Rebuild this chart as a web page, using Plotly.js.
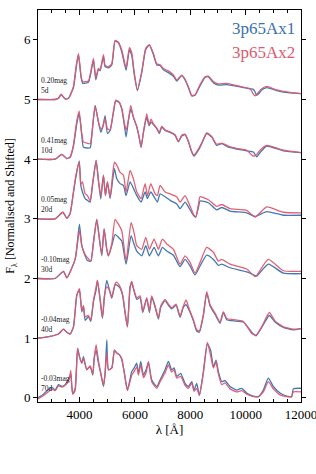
<!DOCTYPE html>
<html>
<head>
<meta charset="utf-8">
<script src="https://cdn.plot.ly/plotly-3.0.1.min.js"></script>
<style>html,body{margin:0;padding:0;background:#fff;}#chart{width:316px;height:474px;}</style>
</head>
<body>
<div id="chart"></div>
<script>
// Wavelength grids (Å) and normalised fluxes, per epoch
const epochs = ["5d", "10d", "20d", "30d", "40d", "70d"];
const mags = ["0.20mag", "0.41mag", "0.05mag", "-0.10mag", "-0.04mag", "-0.03mag"];
const offsets = [5, 4, 3, 2, 1, 0];
const xTickVals = [4000, 6000, 8000, 10000, 12000];
const xTickText = ["4000", "6000", "8000", "10000", "12000"];
const yTickVals = [0, 1, 2, 3, 4, 5, 6];

const wl_5d = [2500,3120,3240,3336,3480,3600,3781,3877,3962,4058,4118,4322,4407,4503,4587,4683,4744,4864,4924,5044,5165,5285,5405,5526,5682,5802,5887,5971,6091,6248,6392,6524,6669,6789,6910,7030,7210,7391,7512,7693,7812,7933,8053,8173,8354,8534,8654,8835,9015,9316,9797,10159,10280,10339,10399,10459,10580,10760,11121,11603,12000];
const ax1_5d = [0.00,0.00,0.02,0.08,0.01,0.02,0.20,0.52,0.75,0.37,0.27,0.29,0.44,0.66,0.33,0.51,0.48,0.72,0.55,0.53,0.58,0.98,0.95,0.80,0.49,0.83,0.74,0.44,0.15,0.45,0.84,0.91,0.75,0.58,0.57,0.50,0.45,0.39,0.31,0.40,0.33,0.20,0.06,0.07,0.23,0.37,0.38,0.28,0.24,0.25,0.21,0.18,0.17,0.13,0.07,0.09,0.16,0.20,0.15,0.11,0.10];
const ax2_5d = [0.00,0.00,0.02,0.09,0.01,0.02,0.22,0.56,0.77,0.38,0.30,0.31,0.47,0.69,0.36,0.52,0.50,0.75,0.57,0.55,0.60,0.99,0.96,0.83,0.53,0.87,0.78,0.47,0.16,0.47,0.86,0.92,0.77,0.60,0.58,0.52,0.48,0.41,0.33,0.41,0.34,0.21,0.07,0.08,0.25,0.38,0.39,0.30,0.26,0.27,0.22,0.18,0.09,0.06,0.09,0.12,0.18,0.22,0.16,0.12,0.10];

const wl_10d = [2500,3120,3360,3540,3661,3781,3902,3985,4082,4142,4383,4443,4563,4684,4768,4840,4924,5008,5105,5226,5309,5430,5526,5610,5682,5767,5851,5947,6067,6151,6224,6308,6428,6513,6585,6669,6789,6886,6970,7090,7270,7451,7572,7692,7812,7933,8053,8137,8294,8414,8594,8775,8955,9136,9376,9677,10038,10280,10399,10500,10760,11362,12000];
const ax1_10d = [0.00,0.00,0.08,0.01,0.03,0.22,0.60,0.77,0.40,0.20,0.19,0.40,0.90,0.62,0.45,0.54,0.73,0.43,0.48,0.79,0.98,0.95,0.84,0.60,0.37,0.65,0.84,0.70,0.54,0.37,0.20,0.45,0.70,0.56,0.62,0.58,0.51,0.43,0.54,0.48,0.45,0.40,0.29,0.39,0.41,0.29,0.12,0.05,0.15,0.26,0.43,0.37,0.23,0.26,0.20,0.17,0.14,0.12,0.04,0.10,0.22,0.14,0.11];
const ax2_10d = [0.00,0.00,0.08,0.01,0.04,0.24,0.64,0.81,0.42,0.29,0.26,0.40,0.89,0.62,0.51,0.54,0.68,0.51,0.49,0.80,0.99,0.96,0.85,0.63,0.48,0.66,0.90,0.70,0.55,0.38,0.20,0.45,0.76,0.58,0.67,0.59,0.52,0.45,0.55,0.49,0.46,0.41,0.30,0.40,0.42,0.30,0.13,0.07,0.17,0.27,0.44,0.38,0.25,0.27,0.22,0.18,0.15,0.05,0.08,0.14,0.23,0.15,0.11];

const wl_20d = [2500,3120,3396,3540,3661,3781,3878,3990,4046,4106,4202,4286,4383,4467,4599,4684,4768,4864,4936,5008,5105,5201,5261,5346,5466,5586,5682,5827,5947,6067,6224,6368,6453,6573,6729,6813,6910,7090,7270,7511,7632,7812,7933,8113,8200,8294,8354,8654,8955,9136,9437,10038,10339,10760,11362,12000];
const ax1_20d = [0.00,0.00,0.11,0.01,0.09,0.45,0.73,0.97,0.56,0.45,0.34,0.31,0.28,0.56,0.98,0.64,0.33,0.73,0.39,0.62,0.34,0.67,0.84,0.67,0.59,0.56,0.39,0.62,0.51,0.39,0.28,0.45,0.34,0.45,0.34,0.28,0.42,0.37,0.31,0.25,0.17,0.28,0.20,0.06,0.03,0.19,0.30,0.27,0.15,0.19,0.13,0.10,0.04,0.12,0.06,0.06];
const ax2_20d = [0.00,0.00,0.11,0.01,0.09,0.45,0.75,0.95,0.58,0.62,0.42,0.39,0.30,0.56,0.98,0.64,0.39,0.73,0.39,0.62,0.36,0.76,0.95,0.90,0.78,0.73,0.45,0.81,0.67,0.45,0.34,0.59,0.39,0.59,0.42,0.39,0.56,0.45,0.42,0.37,0.28,0.39,0.28,0.08,0.03,0.24,0.37,0.32,0.21,0.24,0.17,0.14,0.03,0.20,0.11,0.10];

const wl_30d = [2500,3120,3420,3540,3841,3997,4082,4202,4286,4407,4503,4623,4719,4804,4888,4984,5044,5165,5285,5405,5526,5682,5863,5971,6067,6248,6392,6524,6693,6849,6994,7150,7391,7632,7812,7993,8173,8354,8594,8835,9015,9136,9437,10038,10339,10399,10820,11362,12000];
const ax1_30d = [0.00,0.00,0.12,0.01,0.32,0.91,0.55,0.38,0.30,0.29,0.60,0.99,0.66,0.38,0.83,0.49,0.38,0.55,0.74,0.69,0.63,0.24,0.72,0.57,0.46,0.38,0.55,0.38,0.52,0.38,0.52,0.46,0.39,0.20,0.32,0.21,0.06,0.21,0.39,0.32,0.22,0.24,0.18,0.11,0.05,0.04,0.24,0.09,0.08];
const ax2_30d = [0.00,0.00,0.12,0.01,0.32,0.80,0.55,0.40,0.35,0.29,0.60,0.99,0.66,0.40,0.83,0.49,0.38,0.58,0.99,0.91,0.80,0.29,0.94,0.77,0.55,0.49,0.69,0.49,0.66,0.49,0.66,0.58,0.49,0.24,0.38,0.27,0.09,0.27,0.52,0.44,0.29,0.32,0.24,0.16,0.03,0.05,0.32,0.13,0.12];

const wl_40d = [2500,2939,3239,3420,3540,3661,3781,3902,3997,4082,4142,4202,4322,4407,4503,4599,4647,4744,4828,4900,4984,5080,5165,5290,5346,5466,5562,5646,5730,5827,5887,5947,6067,6188,6284,6428,6525,6609,6729,6850,6934,7090,7210,7331,7487,7632,7752,7848,7969,8113,8233,8329,8474,8594,8715,8895,9076,9196,9316,9557,9918,10219,10375,10580,10856,11061,11362,11723,12000];
const ax1_40d = [0.00,0.03,0.07,0.15,0.10,0.07,0.19,0.72,0.81,0.44,0.53,0.30,0.36,0.28,0.61,0.81,0.97,0.64,0.33,0.70,0.97,0.81,0.67,0.90,0.89,0.84,0.70,0.42,0.19,0.86,0.93,0.83,0.65,0.68,0.43,0.66,0.43,0.69,0.52,0.32,0.52,0.63,0.55,0.49,0.55,0.35,0.52,0.56,0.46,0.29,0.12,0.10,0.38,0.76,0.54,0.40,0.25,0.43,0.31,0.29,0.27,0.10,0.04,0.18,0.38,0.27,0.18,0.14,0.16];
const ax2_40d = [0.00,0.03,0.07,0.15,0.10,0.07,0.19,0.72,0.83,0.46,0.55,0.36,0.38,0.30,0.63,0.86,0.97,0.66,0.35,0.70,0.86,0.80,0.69,0.92,0.94,0.86,0.72,0.44,0.19,0.86,0.95,0.84,0.68,0.71,0.45,0.68,0.45,0.71,0.54,0.34,0.54,0.65,0.57,0.51,0.57,0.37,0.54,0.64,0.48,0.31,0.14,0.12,0.40,0.78,0.56,0.42,0.27,0.44,0.33,0.31,0.28,0.08,0.05,0.19,0.43,0.29,0.19,0.15,0.16];

const wl_70d = [2500,2698,2878,2999,3119,3239,3360,3480,3600,3661,3685,3721,3757,3841,3930,3997,4082,4142,4262,4383,4479,4527,4599,4684,4768,4864,4924,4984,5044,5165,5261,5346,5442,5526,5622,5730,5887,5971,6067,6127,6212,6308,6404,6489,6609,6789,6910,7090,7210,7331,7415,7511,7656,7812,7933,8053,8137,8233,8329,8474,8618,8739,8835,8931,9015,9136,9256,9437,9677,9858,10038,10280,10459,10640,10820,11001,11242,11483,11663,11723,12000];
const ax1_70d = [0.00,0.06,0.14,0.18,0.13,0.22,0.19,0.22,0.30,0.36,0.40,0.19,0.07,0.15,0.83,0.69,0.58,0.69,0.47,0.53,0.38,0.64,0.80,0.58,0.41,0.19,0.41,0.97,0.47,0.50,0.80,0.75,0.72,0.64,0.41,0.13,0.44,0.50,0.58,0.41,0.61,0.38,0.47,0.59,0.30,0.19,0.30,0.47,0.61,0.47,0.50,0.36,0.41,0.24,0.19,0.27,0.13,0.24,0.04,0.44,0.91,0.79,0.52,0.63,0.44,0.27,0.29,0.19,0.13,0.16,0.08,0.03,0.02,0.13,0.33,0.19,0.08,0.03,0.02,0.15,0.16];
const ax2_70d = [-0.02,0.04,0.10,0.15,0.12,0.20,0.18,0.21,0.28,0.40,0.46,0.19,0.06,0.12,0.83,0.69,0.58,0.66,0.47,0.53,0.40,0.66,0.89,0.62,0.41,0.21,0.41,0.75,0.47,0.50,0.80,0.75,0.72,0.66,0.41,0.12,0.38,0.44,0.52,0.38,0.55,0.34,0.42,0.61,0.27,0.16,0.27,0.42,0.55,0.43,0.47,0.33,0.36,0.21,0.16,0.25,0.11,0.16,0.04,0.42,0.93,0.70,0.50,0.60,0.40,0.22,0.25,0.15,0.10,0.12,0.06,0.02,0.02,0.10,0.27,0.15,0.05,0.02,0.02,0.10,0.10];

const wls = [wl_5d, wl_10d, wl_20d, wl_30d, wl_40d, wl_70d];
const ax1 = [ax1_5d, ax1_10d, ax1_20d, ax1_30d, ax1_40d, ax1_70d];
const ax2 = [ax2_5d, ax2_10d, ax2_20d, ax2_30d, ax2_40d, ax2_70d];
const seriesNames = ["3p65Ax1", "3p65Ax2"];

const blue = "#3b70b0", red = "#dc5a6e";
const serif = "Liberation Serif, DejaVu Serif, serif";

const traces = [];
for (let i = 0; i < epochs.length; i++) {
  [[ax1[i], blue, seriesNames[0]], [ax2[i], red, seriesNames[1]]].forEach(([f, c, nm]) => {
    traces.push({
      x: wls[i], y: f.map(v => v + offsets[i]),
      type: "scatter", mode: "lines", name: nm, showlegend: false,
      line: {color: c, width: 1.3, shape: "spline", smoothing: 0.5},
      opacity: 0.95, hoverinfo: "skip"
    });
  });
}

const annotations = [];
for (let i = 0; i < epochs.length; i++) {
  annotations.push({x: 2530, y: offsets[i] + 0.235, xref: "x", yref: "y",
    text: mags[i] + "<br>" + epochs[i], align: "left", showarrow: false,
    xanchor: "left", yanchor: "middle",
    font: {family: serif, size: 7.5, color: "#222"}});
}
annotations.push({x: 0.985, y: 0.952, xref: "paper", yref: "paper", text: seriesNames[0], showarrow: false, xanchor: "right", yanchor: "middle", font: {family: serif, size: 17, color: blue}});
annotations.push({x: 0.985, y: 0.892, xref: "paper", yref: "paper", text: seriesNames[1], showarrow: false, xanchor: "right", yanchor: "middle", font: {family: serif, size: 17, color: red}});

const layout = {
  width: 316, height: 474,
  margin: {l: 38, r: 15, t: 10, b: 72},
  paper_bgcolor: "#fff", plot_bgcolor: "#fff",
  showlegend: false,
  font: {family: serif, size: 13, color: "#000"},
  xaxis: {
    range: [2500, 12000], tickvals: xTickVals, ticktext: xTickText,
    ticklabeloverflow: "allow",
    ticks: "inside", ticklen: 5, tickwidth: 1, tickcolor: "#000",
    minor: {dtick: 500, tick0: 0, ticks: "inside", ticklen: 3, tickcolor: "#000"},
    showline: true, linecolor: "#000", linewidth: 1, mirror: "ticks",
    showgrid: false, zeroline: false,
    tickfont: {family: serif, size: 13},
    title: {text: "λ [Å]", font: {family: serif, size: 13}, standoff: 4}
  },
  yaxis: {
    range: [-0.07, 6.5], tickvals: yTickVals,
    ticks: "outside", ticklen: 4, tickwidth: 1, tickcolor: "#000",
    showline: true, linecolor: "#000", linewidth: 1, mirror: "ticks",
    showgrid: false, zeroline: false,
    tickfont: {family: serif, size: 13},
    title: {text: "F<sub>λ</sub> [Normalised and Shifted]", font: {family: serif, size: 12}, standoff: 6}
  },
  annotations: annotations
};

Plotly.newPlot("chart", traces, layout, {displayModeBar: false, staticPlot: true});
</script>
</body>
</html>
